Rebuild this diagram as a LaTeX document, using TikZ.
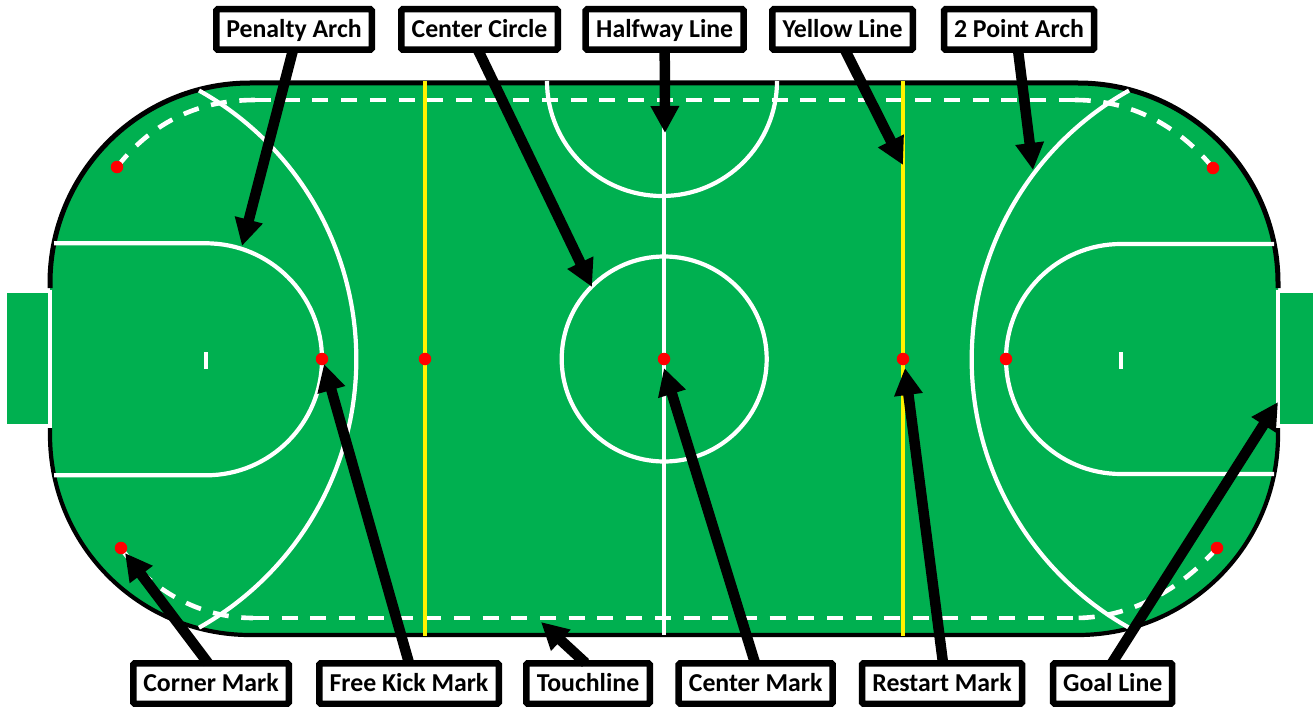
\documentclass[tikz,border=0pt]{standalone}
\usepackage{fontspec}
\setmainfont{Carlito}
\usetikzlibrary{arrows.meta}
\definecolor{pitch}{HTML}{00B050}
\tikzset{
  labelbox/.style={draw=black,fill=white,line width=6.5pt,rounded corners=1.5pt,minimum height=40.5pt,inner sep=0pt,text height=20pt,text depth=4pt,font=\fontsize{25.8}{30}\selectfont\bfseries,text=black},
  callout/.style={draw=black,line width=10.5pt,-{Triangle[length=27pt,width=27pt]}},
  wline/.style={draw=white,line width=4.2pt},
  wdash/.style={draw=white,line width=4.6pt,dash pattern=on 16pt off 12.7pt},
  mark dot/.style={circle,fill=red,inner sep=0pt,minimum size=12.5pt},
  border/.style={draw=black,line width=5pt}
}
\begin{document}
\begin{tikzpicture}[x=1pt,y=-1pt]
\useasboundingbox (0,0) rectangle (1313,706);
% goals
\fill[pitch] (7,293) rectangle (48,424);
\fill[pitch] (1280,293) rectangle (1313,424);
% field
\fill[pitch] (250,83) -- (1078,83) arc[start angle=-90,end angle=0,radius=200] -- (1278,435) arc[start angle=0,end angle=90,radius=200] -- (250,635) arc[start angle=90,end angle=180,radius=200] -- (50,283) arc[start angle=180,end angle=270,radius=200] -- cycle;
\draw[border] (50,288) -- (50,283) arc[start angle=180,end angle=270,radius=200] -- (1078,83) arc[start angle=-90,end angle=0,radius=200] -- (1278,288);
\draw[border,line width=4.2pt] (50,428) -- (50,435) arc[start angle=180,end angle=90,radius=200] -- (1078,635) arc[start angle=90,end angle=0,radius=200] -- (1278,428);
% goal lines
\draw[wline,line width=3.5pt] (50,290) -- (50,428);
\draw[wline,line width=3.5pt] (1278,290) -- (1278,428);
% touchline (dashed)
\draw[wdash] (117,167) .. controls (150,125) and (195,100) .. (255,100);
\draw[wdash] (255,100) -- (1075,100);
\draw[wdash] (1213,168) .. controls (1178,125) and (1130,100) .. (1075,100);
\draw[wdash] (121,548) .. controls (150,590) and (200,618) .. (253,618);
\draw[wdash] (253,618) -- (1075,618);
\draw[wdash] (1217,548) .. controls (1180,590) and (1130,618) .. (1075,618);
% penalty arches
\draw[wline] (54,243.3) -- (206,243.3) arc[start angle=-90,end angle=90,radius=116] -- (54,475.3);
\draw[wline] (1274,244) -- (1121,244) arc[start angle=270,end angle=90,radius=115] -- (1274,474);
\draw[wline] (206,352) -- (206,369);
\draw[wline] (1121,352) -- (1121,369);
% 2 point arches
\draw[wline] (199,90.5) arc[start angle=-60.7,end angle=60.7,radius=308];
\draw[wline] (1129,90.5) arc[start angle=240.7,end angle=119.3,radius=308];
% halfway, circles
\draw[wline,line width=3.5pt] (664,83) -- (664,635);
\draw[wline] (664.2,359) circle[radius=102.5];
\draw[wline] (547,81) arc[start angle=180,end angle=0,radius=115];
% yellow lines
\draw[draw=yellow,line width=4.5pt] (425,81) -- (425,636);
\draw[draw=yellow,line width=4.5pt] (903,81) -- (903,636);
% marks
\node[mark dot] (cornerTL) at (117,167) {};
\node[mark dot] (cornerTR) at (1213,168) {};
\node[mark dot] (cornerBL) at (121,548) {};
\node[mark dot] (cornerBR) at (1217,548) {};
\node[mark dot] (freeL) at (322,359) {};
\node[mark dot] (restartL) at (425,359) {};
\node[mark dot] (centre) at (664,359) {};
\node[mark dot] (restartR) at (903,359) {};
\node[mark dot] (freeR) at (1006,359) {};
% labels
\node[labelbox,minimum width=155.5pt] (pa) at (294,29.5) {Penalty Arch};
\node[labelbox,minimum width=156.5pt] (cc) at (479.5,29.5) {Center Circle};
\node[labelbox,minimum width=158pt] (hl) at (664.7,29.5) {Halfway Line};
\node[labelbox,minimum width=140.5pt] (yl) at (842.5,29.5) {Yellow Line};
\node[labelbox,minimum width=150pt] (tp) at (1019,29.5) {2 Point Arch};
\node[labelbox,minimum width=155.5pt] (cm) at (211,683.5) {Corner Mark};
\node[labelbox,minimum width=179.5pt] (fk) at (409,683.5) {Free Kick Mark};
\node[labelbox,minimum width=123.5pt] (tl) at (588,683.5) {Touchline};
\node[labelbox,minimum width=154pt] (cn) at (755.7,683.5) {Center Mark};
\node[labelbox,minimum width=160pt] (rm) at (942,683.5) {Restart Mark};
\node[labelbox,minimum width=119pt] (gl) at (1112.7,683.5) {Goal Line};
% arrow targets
\coordinate (tPA) at (242,246);
\coordinate (tCC) at (592,287);
\coordinate (tHL) at (665,133);
\coordinate (tYL) at (903,165);
\coordinate (tTP) at (1033,170);
\coordinate (tCM) at (125,553);
\coordinate (tFK) at (324,364);
\coordinate (tTL) at (541,622);
\coordinate (tCN) at (664,368);
\coordinate (tRM) at (905,368);
\coordinate (tGL) at (1278,402);
% arrows
\draw[callout] ([shift={(-1pt,3pt)}]pa.south) -- (tPA);
\draw[callout] ([shift={(-1.5pt,3pt)}]cc.south) -- (tCC);
\draw[callout] ([shift={(0pt,3pt)}]hl.south) -- (tHL);
\draw[callout] ([shift={(2.5pt,3pt)}]yl.south) -- (tYL);
\draw[callout] ([shift={(-1pt,3pt)}]tp.south) -- (tTP);
\draw[callout] ([shift={(-3pt,-3pt)}]cm.north) -- (tCM);
\draw[callout] ([shift={(0pt,-3pt)}]fk.north) -- (tFK);
\draw[callout] ([shift={(-2.5pt,-3pt)}]tl.north) -- (tTL);
\draw[callout] ([shift={(-0.7pt,-3pt)}]cn.north) -- (tCN);
\draw[callout] ([shift={(1pt,-3pt)}]rm.north) -- (tRM);
\draw[callout] ([shift={(-0.7pt,-3pt)}]gl.north) -- (tGL);
\end{tikzpicture}
\end{document}
